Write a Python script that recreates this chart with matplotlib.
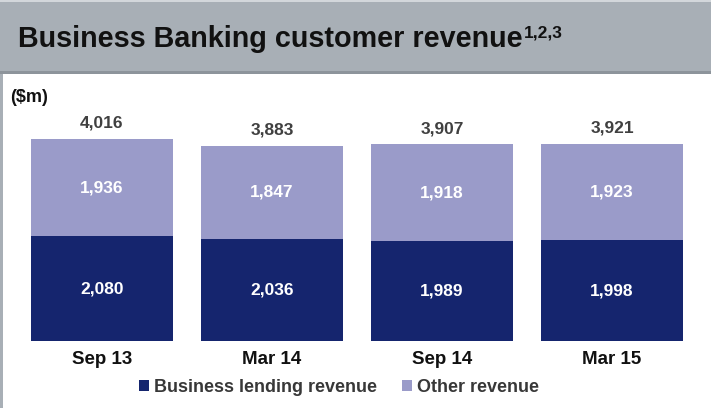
import matplotlib
matplotlib.use("Agg")
import matplotlib.pyplot as plt
from matplotlib.patches import Rectangle

plt.rcParams['font.family'] = ['Liberation Sans', 'DejaVu Sans']

periods = ["Sep 13", "Mar 14", "Sep 14", "Mar 15"]
lending = [2080, 2036, 1989, 1998]
other = [1936, 1847, 1918, 1923]
totals = [4016, 3883, 3907, 3921]

dark = "#15256e"
light = "#9a9bc9"
W, H = 711, 408

fig = plt.figure(figsize=(W / 100, H / 100), dpi=100)

# header band and frame lines
fig.patches.append(Rectangle((0, 1 - 74 / H), 1, 74 / H, transform=fig.transFigure,
                             facecolor="#a8afb6", edgecolor="none", zorder=0))
fig.patches.append(Rectangle((0, 1 - 2 / H), 1, 2 / H, transform=fig.transFigure,
                             facecolor="#d3d7db", edgecolor="none", zorder=1))
fig.patches.append(Rectangle((0, 1 - 74 / H), 1, 3 / H, transform=fig.transFigure,
                             facecolor="#8d949b", edgecolor="none", zorder=1))
fig.patches.append(Rectangle((0, 0), 2.5 / W, 1 - 74 / H, transform=fig.transFigure,
                             facecolor="#a8afb6", edgecolor="none", zorder=1))

title = fig.text(18 / W, 1 - 47 / H, "Business Banking customer revenue",
                 fontsize=20.7, fontweight="bold", color="#111111", va="baseline", ha="left")
fig.canvas.draw()
bb = title.get_window_extent()
fig.text((bb.x1 + 1) / W, 1 - 37 / H, "1,2,3", fontsize=12.5, fontweight="bold",
         color="#111111", va="baseline", ha="left")

fig.text(10 / W, 1 - 97 / H, "($m)", fontsize=13, fontweight="bold",
         color="#111111", va="center", ha="left")

ax = fig.add_axes([17 / W, 1 - 341 / H, 680 / W, 226.4 / H])
x = range(len(periods))
w = 0.83
ax.bar(x, lending, width=w, color=dark, label="Business lending revenue")
ax.bar(x, other, width=w, bottom=lending, color=light, label="Other revenue")
ax.set_xlim(-0.5, 3.5)
ax.set_ylim(0, 4500)
ax.axis("off")

for i in x:
    ax.text(i, lending[i] / 2, f"{lending[i]:,}", ha="center", va="center",
            color="white", fontsize=12.5, fontweight="bold")
    ax.text(i, lending[i] + other[i] / 2, f"{other[i]:,}", ha="center", va="center",
            color="white", fontsize=12.5, fontweight="bold")
    ax.text(i, totals[i] + 220, f"{totals[i]:,}", ha="center", va="baseline",
            color="#404040", fontsize=12.5, fontweight="bold")
    ax.text(i, -457, periods[i], ha="center", va="baseline",
            color="#111111", fontsize=13.5, fontweight="bold")

leg = fig.legend(loc="center", bbox_to_anchor=(339 / W, 1 - 387 / H), ncol=2, frameon=False,
                 handlelength=0.55, handleheight=0.55, handletextpad=0.25, columnspacing=1.4,
                 prop={"size": 13, "weight": "bold"})
for t in leg.get_texts():
    t.set_color("#383838")

fig.savefig("out.png", dpi=100)
